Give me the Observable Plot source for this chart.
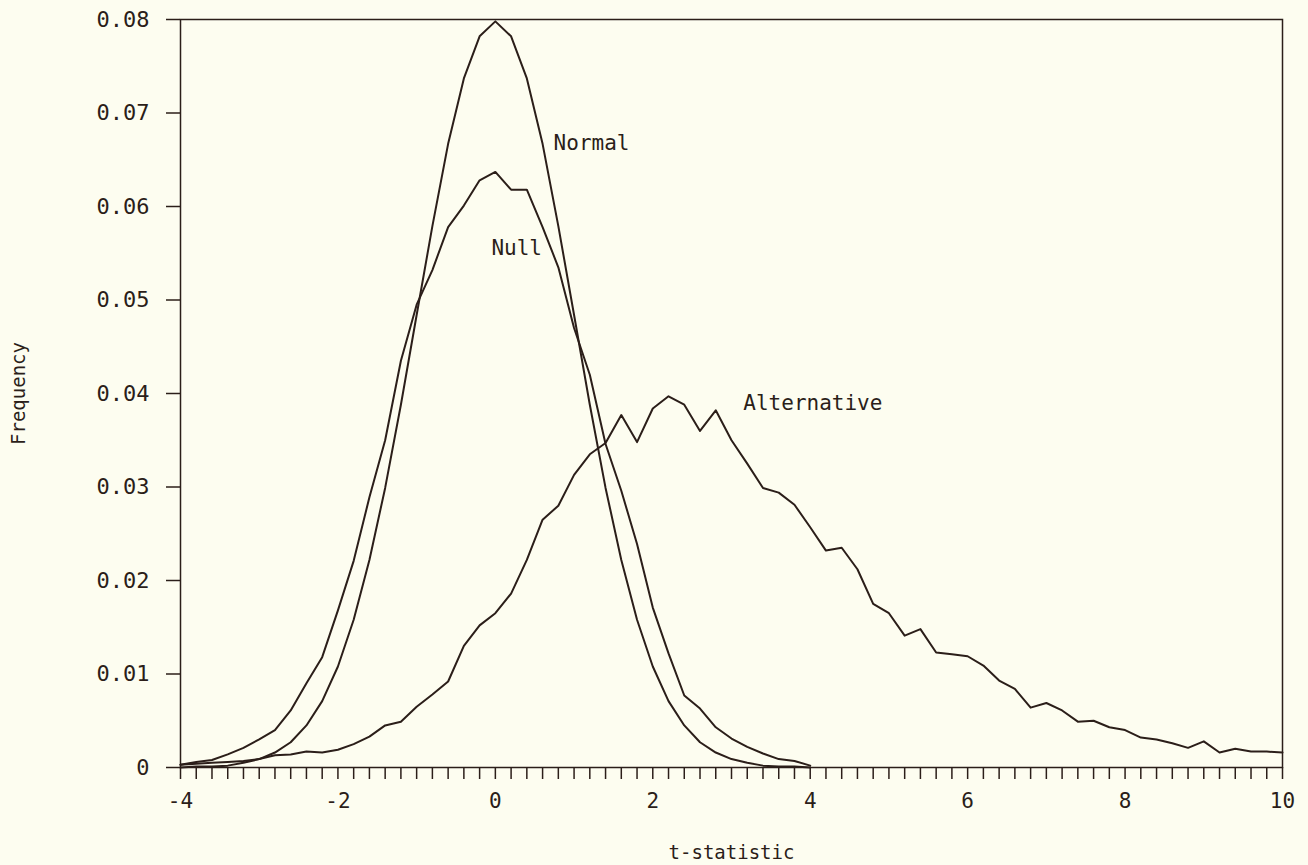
<!DOCTYPE html>
<html>
<head>
<meta charset="utf-8">
<script src="https://cdn.jsdelivr.net/npm/d3@7"></script>
<script src="https://cdn.jsdelivr.net/npm/@observablehq/plot@0.6"></script>
<style>
  html, body { margin: 0; padding: 0; background: #fdfdf0; }
  #chart svg { display: block; }
</style>
</head>
<body>
<div id="chart"></div>
<script>
// t grid (x values), step 0.2
const tCentral = [-4.0,-3.8,-3.6,-3.4,-3.2,-3.0,-2.8,-2.6,-2.4,-2.2,-2.0,-1.8,-1.6,-1.4,-1.2,-1.0,-0.8,-0.6,-0.4,-0.2,
  0.0,0.2,0.4,0.6,0.8,1.0,1.2,1.4,1.6,1.8,2.0,2.2,2.4,2.6,2.8,3.0,3.2,3.4,3.6,3.8,4.0];
const tFull = [-4.0,-3.8,-3.6,-3.4,-3.2,-3.0,-2.8,-2.6,-2.4,-2.2,-2.0,-1.8,-1.6,-1.4,-1.2,-1.0,-0.8,-0.6,-0.4,-0.2,
  0.0,0.2,0.4,0.6,0.8,1.0,1.2,1.4,1.6,1.8,2.0,2.2,2.4,2.6,2.8,3.0,3.2,3.4,3.6,3.8,
  4.0,4.2,4.4,4.6,4.8,5.0,5.2,5.4,5.6,5.8,6.0,6.2,6.4,6.6,6.8,7.0,7.2,7.4,7.6,7.8,
  8.0,8.2,8.4,8.6,8.8,9.0,9.2,9.4,9.6,9.8,10.0];

const normalFreq = [0.0000,0.0001,0.0001,0.0002,0.0005,0.0009,0.0016,0.0027,0.0045,0.0071,0.0108,0.0158,0.0222,0.0299,0.0388,0.0484,0.0579,0.0667,0.0737,0.0782,
  0.0798,0.0782,0.0737,0.0667,0.0579,0.0484,0.0388,0.0299,0.0222,0.0158,0.0108,0.0071,0.0045,0.0027,0.0016,0.0009,0.0005,0.0002,0.0001,0.0001,0.0000];

const nullFreq = [0.0003,0.0006,0.0008,0.0014,0.0021,0.0030,0.0040,0.0061,0.0090,0.0118,0.0168,0.0221,0.0289,0.0350,0.0435,0.0495,0.0532,0.0578,0.0601,0.0628,
  0.0637,0.0618,0.0618,0.0578,0.0535,0.0470,0.0420,0.0346,0.0296,0.0239,0.0171,0.0122,0.0077,0.0063,0.0043,0.0031,0.0022,0.0015,0.0009,0.0007,0.0002];

const altFreq = [0.0003,0.0004,0.0005,0.0006,0.0007,0.0009,0.0013,0.0014,0.0017,0.0016,0.0019,0.0025,0.0033,0.0045,0.0049,0.0065,0.0078,0.0092,0.0130,0.0152,
  0.0165,0.0186,0.0222,0.0265,0.0280,0.0313,0.0335,0.0347,0.0377,0.0348,0.0384,0.0397,0.0388,0.0360,0.0382,0.0350,0.0325,0.0299,0.0294,0.0281,
  0.0257,0.0232,0.0235,0.0212,0.0175,0.0165,0.0141,0.0148,0.0123,0.0121,0.0119,0.0109,0.0093,0.0084,0.0064,0.0069,0.0061,0.0049,0.0050,0.0043,
  0.0040,0.0032,0.0030,0.0026,0.0021,0.0028,0.0016,0.0020,0.0017,0.0017,0.0016];

const xTickLabels = [-4,-2,0,2,4,6,8,10];
const xMinorTicks = tFull;
const yTickLabels = [0,0.01,0.02,0.03,0.04,0.05,0.06,0.07,0.08];

const curveLabels = [
  {name: "Normal", t: 0.74, f: 0.0668},
  {name: "Null", t: -0.05, f: 0.0555},
  {name: "Alternative", t: 3.15, f: 0.0390}
];

const ink = "#2b1e19";
const mono = "DejaVu Sans Mono";
const toRows = (ts, vs) => ts.map((t, i) => ({t, f: vs[i]}));

const chart = Plot.plot({
  width: 1308,
  height: 865,
  marginLeft: 180,
  marginRight: 26,
  marginTop: 19,
  marginBottom: 98,
  style: {background: "#fdfdf0", color: ink},
  x: {domain: [-4, 10]},
  y: {domain: [0, 0.08]},
  marks: [
    Plot.frame({stroke: ink, strokeWidth: 1.5}),
    Plot.axisX({ticks: xMinorTicks, tickSize: 12, tickFormat: () => "", stroke: ink, strokeWidth: 1.5, label: null}),
    Plot.axisX({ticks: xTickLabels, tickSize: 0, tickPadding: 26, tickFormat: d => d < 0 ? "-" + Math.abs(d) : String(d),
      fontSize: 21, fontFamily: mono, label: null, fill: ink}),
    Plot.axisY({ticks: yTickLabels, tickSize: 14, tickPadding: 17, stroke: ink, strokeWidth: 1.5,
      tickFormat: d => d === 0 ? "0" : d.toFixed(2),
      fontSize: 22, fontFamily: mono, label: null, fill: ink}),
    Plot.line(toRows(tCentral, normalFreq), {x: "t", y: "f", stroke: ink, strokeWidth: 2}),
    Plot.line(toRows(tCentral, nullFreq), {x: "t", y: "f", stroke: ink, strokeWidth: 2}),
    Plot.line(toRows(tFull, altFreq), {x: "t", y: "f", stroke: ink, strokeWidth: 2}),
    Plot.text(curveLabels, {x: "t", y: "f", text: "name", textAnchor: "start", fontFamily: mono,
      fontSize: 21, fill: ink}),
    Plot.text(["t-statistic"], {frameAnchor: "bottom", textAnchor: "middle", lineAnchor: "middle", dy: 85,
      fontFamily: mono, fontSize: 19, fill: ink}),
    Plot.text(["Frequency"], {frameAnchor: "left", textAnchor: "middle", lineAnchor: "middle", dx: -162, rotate: -90,
      fontFamily: mono, fontSize: 19, fill: ink})
  ]
});
document.getElementById("chart").appendChild(chart);
</script>
</body>
</html>
